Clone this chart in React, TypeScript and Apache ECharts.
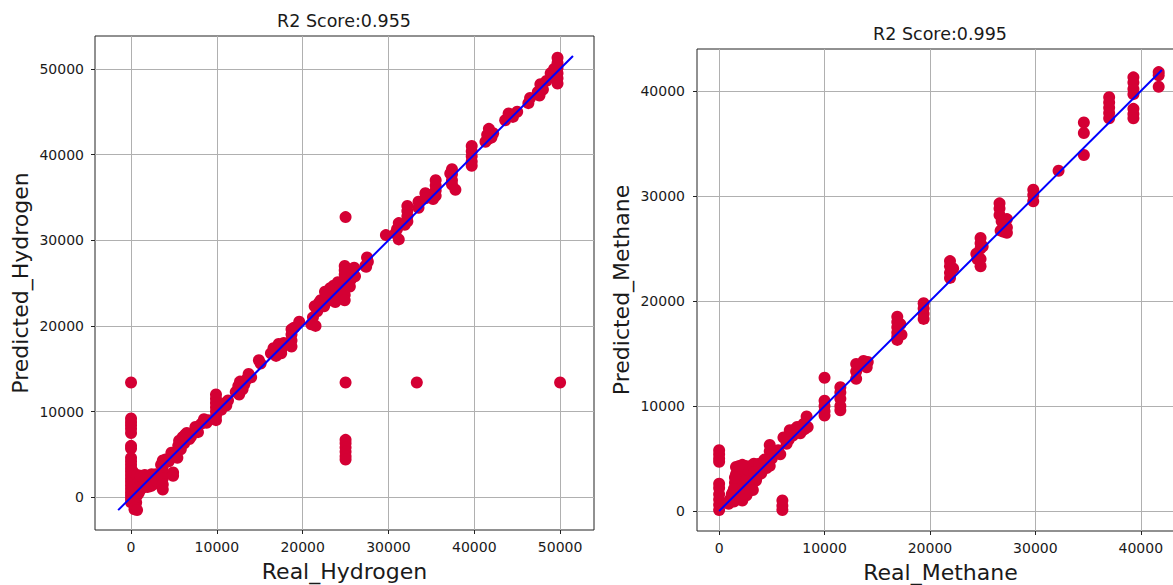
import React, { useEffect, useRef } from "react";
import * as echarts from "echarts";

// ---------- data ----------
const hydrogenTitle = "R2 Score:0.955";
const methaneTitle = "R2 Score:0.995";

const hydrogenTicks = [0, 10000, 20000, 30000, 40000, 50000];
const methaneTicks = [0, 10000, 20000, 30000, 40000];

// [Real_Hydrogen, Predicted_Hydrogen]
const hydrogenPoints: number[][] = [
  [0, 13400], [0, 9200], [0, 8800], [0, 8400], [0, 8000], [0, 7500], [0, 6000], [0, 5700],
  [0, 4600], [0, 4200], [0, 3800], [0, 3400], [0, 3000], [0, 2600], [0, 2200], [0, 1800],
  [0, 1400], [0, 1000], [0, 600], [0, 200], [0, -200], [0, -600],
  [400, -1400], [500, -1000], [600, -600], [400, -200], [700, 200], [500, 600], [800, 1000],
  [600, 1500], [900, 2000], [300, 2400], [200, 3000], [500, -1200], [700, -1500],
  [300, 1200], [700, 2600], [900, 500], [1100, 900], [1300, 1100], [800, 1700],
  [1000, 1300], [1200, 1800], [1400, 2200], [1500, 1500], [1700, 2000], [1900, 1200],
  [2000, 2400], [2200, 1800], [2400, 2700], [2600, 1500], [2700, 2200], [1100, 2500],
  [1600, 2600], [2300, 1300], [2900, 2700], [3000, 1900],
  [3700, 4300], [3700, 3600], [3700, 2900], [3700, 2200], [3700, 1500], [3700, 900],
  [4900, 2900], [4900, 2500],
  [3500, 3800], [4000, 4400], [4400, 4200], [4700, 5200], [5200, 5000], [5500, 6000],
  [5800, 5600], [6000, 7000], [6200, 6300], [6500, 7500], [6800, 6800], [7000, 7100],
  [7500, 8200], [7800, 7600], [8200, 8600], [8500, 9100], [8800, 8700], [9000, 9000],
  [5400, 4600], [6300, 7300], [5600, 6600],
  [9900, 12000], [9900, 11500], [9900, 11000], [9900, 10500], [9900, 10000], [9900, 9500], [9900, 9000],
  [10500, 10200], [11100, 10700], [11300, 11300], [11000, 11000],
  [12200, 12300], [12500, 13000], [12700, 13500], [13000, 12600], [13200, 13200], [13500, 13800],
  [13700, 14400], [14000, 14000], [12600, 12000],
  [14900, 16000], [15100, 15600],
  [16300, 16800], [16600, 17400], [16900, 16500], [17200, 17900], [17500, 17200], [17800, 18000], [17500, 16800],
  [18700, 19600], [18700, 19000], [18700, 18300], [18700, 17600], [19000, 19800],
  [19600, 20500],
  [21000, 20200], [21200, 21000], [21400, 22300], [21700, 21700], [21900, 22700], [21500, 20000],
  [22100, 23000], [22500, 22300], [22800, 23600], [23200, 24400], [23300, 23000], [23600, 24700],
  [23900, 23800], [24100, 25100], [24400, 24800], [24400, 23200], [22600, 24000], [23800, 22800],
  [24900, 27000], [24900, 26500], [24900, 26000], [24900, 25400], [24900, 24800], [24900, 24200],
  [24900, 23600], [24900, 23000],
  [25000, 32700], [25000, 13400], [25000, 6700], [25000, 6300], [25000, 5800], [25000, 5300],
  [25000, 4800], [25000, 4400],
  [25600, 25400], [25800, 26200], [26000, 26800], [25500, 24600], [26100, 25800],
  [27300, 27000], [27500, 28000], [27600, 27500], [27400, 26900],
  [29700, 30600], [31000, 31300], [31200, 32000], [31200, 30100], [30800, 30800],
  [32200, 34000], [32200, 33400], [32200, 32800], [32200, 32200], [31900, 31800],
  [33500, 34500], [33500, 33800], [33300, 13400],
  [34300, 35500], [34300, 34900], [35000, 35300],
  [35500, 37000], [35500, 36400], [35500, 35800], [35500, 35200], [35200, 34800],
  [37400, 38300], [37400, 37700], [37400, 37000], [37400, 36500], [37800, 35900], [37200, 37800],
  [39700, 41000], [39700, 40400], [39700, 39800], [39700, 39200], [39700, 38700],
  [41300, 41500], [41500, 42300], [41700, 43000], [42000, 42000], [42200, 42500], [41600, 41800],
  [43600, 44000], [44000, 44800], [44500, 44400], [45000, 45000],
  [46300, 46000], [46500, 46600],
  [47400, 47300], [47700, 48200], [48000, 47600], [48400, 48600], [47600, 46900],
  [48900, 49500], [49300, 50000], [49000, 49200],
  [49700, 51300], [49700, 50700], [49700, 50100], [49700, 49500], [49700, 48900], [49700, 48300],
  [50000, 13400],
];

// [Real_Methane, Predicted_Methane]
const methanePoints: number[][] = [
  [0, 5800], [0, 5400], [0, 5000], [0, 4700], [0, 2600], [0, 2200], [0, 1600], [0, 1100], [0, 600], [0, 100],
  [900, 700], [1100, 1200], [1300, 1800], [1400, 900], [1500, 2700], [1600, 3500], [1600, 4200],
  [1800, 1500], [1900, 2300], [2000, 3100], [2100, 4000], [2200, 1000], [2300, 2600], [2400, 3400],
  [2500, 4300], [2700, 1800], [2800, 2900], [2900, 3800], [3000, 4300], [3100, 2500], [3200, 3300],
  [3400, 3900], [3500, 2900], [3600, 4300], [3700, 3400], [3900, 4000], [4000, 3600], [4200, 4500],
  [4400, 4200], [4600, 4800], [4800, 4300], [5000, 5000], [4800, 6300], [4800, 5700],
  [1000, 1000], [1500, 1200], [2000, 1700], [2500, 2200], [3000, 2600], [3500, 3300], [4000, 3800], [1200, 1600],
  [1700, 2900], [1800, 3800], [2100, 2000], [2300, 3800], [2600, 3000], [2700, 3900], [2200, 4400],
  [1900, 4300], [2800, 2300], [3300, 4500], [3200, 2000], [2600, 1500], [1700, 1100], [2000, 1300],
  [3800, 4500], [3300, 3700], [4300, 4900], [4500, 4100], [1400, 2100], [1500, 3200], [2400, 1700],
  [6000, 1000], [6000, 500], [6000, 100],
  [5600, 5800], [5800, 5400], [6100, 7000], [6400, 6400], [6700, 7700], [7000, 7200], [7400, 8000],
  [7700, 7400], [8000, 8300], [8300, 9000], [8400, 8000], [6600, 6800], [7200, 7800], [7900, 7700],
  [6900, 7600], [7500, 7600], [8100, 7800],
  [10000, 12700], [10000, 10500], [10000, 10000], [10000, 9500], [10000, 9100],
  [11500, 11800], [11500, 11300], [11500, 10700], [11500, 10000], [11500, 9600],
  [13000, 14000], [13000, 13300], [13000, 12600], [13700, 14300], [14000, 13700], [14100, 14200], [13300, 13800],
  [16900, 18500], [16900, 18000], [16900, 17500], [16900, 17000], [16900, 16600], [16900, 16300],
  [17200, 17800], [17300, 16800],
  [19400, 19800], [19400, 19300], [19400, 18800], [19400, 18300],
  [21900, 23800], [21900, 23300], [21900, 22700], [21900, 22200], [22200, 23100],
  [24400, 24500], [24500, 24000], [24800, 26000], [24800, 25500], [24800, 25000], [24800, 24000],
  [24800, 23300], [25000, 25200],
  [26600, 29300], [26600, 28800], [26600, 28200], [26800, 27600], [27000, 27200], [27000, 26600],
  [27300, 27800], [27300, 27000], [27300, 26500], [26700, 26700],
  [29800, 30600], [29800, 30100], [29800, 29500],
  [32200, 32400],
  [34600, 37000], [34600, 36000], [34600, 33900],
  [37000, 39400], [37000, 38900], [37000, 38400], [37000, 37900], [37000, 37400],
  [39300, 41300], [39300, 40800], [39300, 40200], [39300, 39700], [39300, 38300], [39300, 37800], [39300, 37400],
  [41700, 41800], [41700, 41500], [41700, 40400],
];

// identity (y = x) reference lines
const hydrogenLine = [[-1500, -1500], [51500, 51500]];
const methaneLine = [[0, 0], [42000, 42000]];

const FONT = "DejaVu Sans";
const RED = "#d40034";
const TEXT = "#1a1a1a";

function valueAxis(gridIndex: number, min: number, max: number, ticks: number[], name: string, nameGap: number, labelMargin: number) {
  return {
    type: "value",
    gridIndex,
    min,
    max,
    name,
    nameLocation: "middle",
    nameGap,
    nameTextStyle: { fontFamily: FONT, fontSize: 22, color: TEXT },
    axisLine: { show: false, onZero: false },
    axisTick: { show: true, length: 4, lineStyle: { color: "#222", width: 1 }, customValues: ticks },
    axisLabel: {
      fontFamily: FONT,
      fontSize: 14,
      color: TEXT,
      margin: labelMargin,
      customValues: ticks,
      formatter: (v: number) => String(v),
    },
    splitLine: { show: true, lineStyle: { color: "#b0b0b0", width: 1 } },
  };
}

export default function App() {
  const ref = useRef<HTMLDivElement>(null);
  useEffect(() => {
    if (!ref.current) return;
    const chart = echarts.init(ref.current, null, { renderer: "svg" });
    chart.setOption({
      animation: false,
      backgroundColor: "#ffffff",
      grid: [
        { left: 95, top: 36, width: 499, height: 494, show: true, borderColor: "#222", borderWidth: 1, backgroundColor: "transparent", outerBoundsMode: "none", containLabel: false },
        { left: 697, top: 49, width: 487, height: 482, show: true, borderColor: "#222", borderWidth: 1, backgroundColor: "transparent", outerBoundsMode: "none", containLabel: false },
      ],
      xAxis: [
        valueAxis(0, -4200, 53950, hydrogenTicks, "Real_Hydrogen", 30, 10),
        valueAxis(1, -2100, 44100, methaneTicks, "Real_Methane", 30, 10),
      ],
      yAxis: [
        valueAxis(0, -3820, 53840, hydrogenTicks, "Predicted_Hydrogen", 64, 11),
        valueAxis(1, -1900, 44000, methaneTicks, "Predicted_Methane", 65, 12),
      ],
      graphic: [
        {
          type: "text", x: 344, y: 21,
          style: { text: hydrogenTitle, fontFamily: FONT, fontSize: 17.5, fill: TEXT, textAlign: "center", textVerticalAlign: "middle", align: "center", verticalAlign: "middle" },
        },
        {
          type: "text", x: 940, y: 34,
          style: { text: methaneTitle, fontFamily: FONT, fontSize: 17.5, fill: TEXT, textAlign: "center", textVerticalAlign: "middle", align: "center", verticalAlign: "middle" },
        },
      ],
      series: [
        {
          type: "scatter", xAxisIndex: 0, yAxisIndex: 0, data: hydrogenPoints,
          symbolSize: 12, itemStyle: { color: RED, opacity: 1 }, silent: true, z: 2,
        },
        {
          type: "line", xAxisIndex: 0, yAxisIndex: 0, data: hydrogenLine, showSymbol: false,
          lineStyle: { color: "#0000ff", width: 2 }, silent: true, z: 3,
        },
        {
          type: "scatter", xAxisIndex: 1, yAxisIndex: 1, data: methanePoints,
          symbolSize: 12, itemStyle: { color: RED, opacity: 1 }, silent: true, z: 2,
        },
        {
          type: "line", xAxisIndex: 1, yAxisIndex: 1, data: methaneLine, showSymbol: false,
          lineStyle: { color: "#0000ff", width: 2 }, silent: true, z: 3,
        },
      ],
    });
    return () => chart.dispose();
  }, []);
  return <div ref={ref} style={{ position: "fixed", left: 0, top: 0, width: 1173, height: 585 }} />;
}
